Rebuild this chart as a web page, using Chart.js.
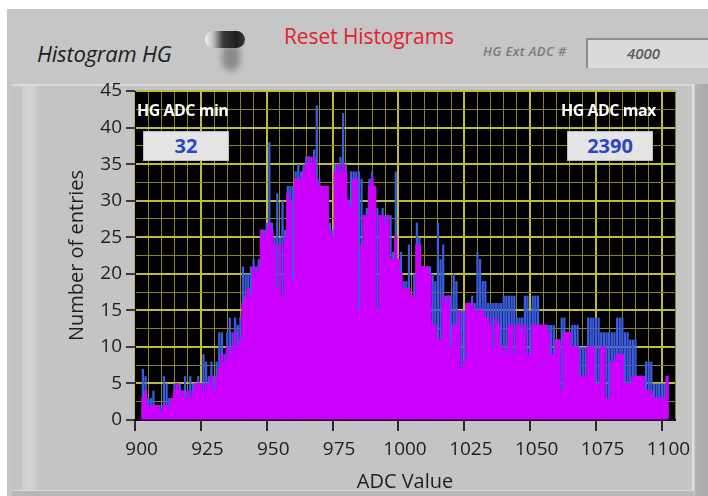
<!DOCTYPE html>
<html>
<head>
<meta charset="utf-8">
<script src="https://cdn.jsdelivr.net/npm/chart.js@4.4.1/dist/chart.umd.min.js"></script>
<style>
  html, body { margin: 0; padding: 0; background: #fff; }
  #wrap { position: relative; width: 708px; height: 496px; overflow: hidden; font-family: "Open Sans", sans-serif; }
  .abs { position: absolute; }
  #panel { left: 7px; top: 9px; right: 0; bottom: 0; background: #c6c6c6; }
  #inner { left: 12px; top: 84px; width: 682px; height: 408px; background: #c4c4c4; border-top: 2px solid #dcdcdc; }
  #leftStrip { left: 22px; top: 86px; width: 16px; height: 406px; background: linear-gradient(90deg, #cdcdcd, #d5d5d5, #c6c6c6); }
  #rightStrip { left: 692px; top: 84px; width: 16px; height: 412px; background: linear-gradient(90deg, #e0e0e0 0, #e0e0e0 2px, #b4b4b4 3px, #a9a9a9 100%); }
  #bottomLine { left: 12px; top: 490px; width: 682px; height: 6px; background: #b8b8b8; border-top: 1px solid #dadada; }
  .title { left: 37px; top: 42px; font-size: 22px; font-style: italic; color: #1c1c1c; line-height: 22px; letter-spacing: -0.2px; }
  .reset { left: 284px; top: 26px; font-size: 21px; color: #e4202c; line-height: 21px; letter-spacing: -0.1px; }
  .ext { left: 483px; top: 45px; font-size: 13px; font-weight: 600; font-style: italic; color: #7a7a7a; line-height: 13px; letter-spacing: 0.4px; }
  .input { left: 586px; top: 38px; width: 124px; height: 28px; background: #dadada; border-top: 2px solid #8c8c8c; border-left: 2px solid #8c8c8c; }
  .input span { position: absolute; left: 39px; top: 6px; font-size: 15px; font-weight: 600; font-style: italic; color: #5a5a5a; line-height: 15px; }
  .knob { left: 205px; top: 31px; width: 40px; height: 17px; border-radius: 9px; background: linear-gradient(90deg, #f4f4f4 0%, #b8b8b8 22%, #3a3a3a 45%, #1e1e1e 80%, #3a3a3a 100%); }
  .shadow { left: 222px; top: 44px; width: 18px; height: 27px; border-radius: 9px; background: #8a8a8a; filter: blur(3px); }
  .label { font-size: 16px; font-weight: bold; color: #fff; line-height: 16px; letter-spacing: -0.5px; z-index: 2; }
  .box { width: 84px; height: 28px; background: #e4e4e4; border: 1px solid #bdbdbd; z-index: 2; text-align: center; font-size: 20px; font-weight: bold; color: #2a48c4; line-height: 28px; }
  canvas { position: absolute; left: 0; top: 0; z-index: 1; }
</style>
</head>
<body>
<div id="wrap">
  <div id="panel" class="abs"></div>
  <div id="inner" class="abs"></div>
  <div id="leftStrip" class="abs"></div>
  <div id="rightStrip" class="abs"></div>
  <div id="bottomLine" class="abs"></div>
  <div class="abs title">Histogram HG</div>
  <div class="abs shadow"></div>
  <div class="abs knob"></div>
  <div class="abs reset">Reset Histograms</div>
  <div class="abs ext">HG Ext ADC #</div>
  <div class="abs input"><span>4000</span></div>
  <canvas id="chart" width="708" height="496"></canvas>
  <div class="abs label" style="left:137px; top:102px;">HG ADC min</div>
  <div class="abs box" style="left:143px; top:131px;">32</div>
  <div class="abs label" style="left:561px; top:102px;">HG ADC max</div>
  <div class="abs box" style="left:567px; top:131px;">2390</div>
</div>
<script>
// histogram bins: one ADC count per bin, 900 .. 1099
const binStart = 900;
const binCount = 200;

const magentaCounts = [
  3, 4, 2, 2, 2, 2, 2, 1, 2, 2,
  2, 3, 4, 5, 4, 4, 3, 4, 3, 4,
  5, 5, 5, 4, 5, 5, 6, 4, 6, 7,
  9, 8, 10, 9, 10, 12, 10, 11, 16, 17,
  18, 17, 21, 20, 21, 26, 25, 26, 27, 26,
  24, 18, 24, 17, 25, 31, 30, 19, 33, 33,
  33, 34, 35, 36, 35, 36, 33, 32, 32, 32,
  32, 26, 25, 34, 35, 34, 35, 34, 30, 29,
  33, 33, 15, 24, 28, 28, 32, 33, 32, 15,
  28, 28, 27, 28, 22, 22, 25, 22, 20, 18,
  18, 18, 17, 17, 24, 24, 21, 21, 21, 20,
  13, 13, 11, 11, 17, 16, 17, 10, 13, 13,
  15, 7, 8, 16, 16, 16, 15, 15, 15, 15,
  14, 14, 13, 10, 14, 13, 10, 10, 9, 13,
  13, 9, 13, 13, 12, 13, 9, 9, 13, 13,
  13, 13, 13, 13, 12, 9, 9, 11, 11, 4,
  12, 12, 12, 10, 10, 10, 6, 6, 6, 10,
  10, 10, 5, 5, 10, 10, 3, 3, 8, 8,
  9, 9, 9, 5, 5, 5, 6, 6, 6, 6,
  6, 4, 4, 4, 3, 3, 3, 3, 3, 6
];

const blueCounts = [
  7, 6, 3, 3, 4, 2, 2, 2, 6, 5,
  3, 3, 5, 5, 5, 4, 6, 4, 6, 5,
  5, 6, 5, 9, 8, 6, 8, 6, 8, 12,
  12, 9, 12, 14, 12, 14, 13, 14, 21, 20,
  20, 21, 22, 21, 22, 26, 26, 27, 38, 27,
  25, 31, 25, 30, 26, 32, 32, 32, 34, 35,
  34, 35, 36, 36, 36, 37, 43, 33, 32, 32,
  32, 27, 26, 35, 35, 36, 42, 35, 30, 34,
  34, 34, 34, 33, 28, 29, 33, 34, 32, 29,
  28, 29, 28, 28, 28, 23, 34, 22, 23, 19,
  19, 24, 17, 20, 27, 25, 21, 21, 21, 21,
  20, 19, 27, 22, 24, 17, 17, 17, 20, 19,
  15, 15, 15, 16, 16, 17, 16, 23, 22, 19,
  19, 16, 16, 16, 16, 16, 16, 17, 17, 17,
  17, 17, 14, 14, 14, 17, 17, 15, 17, 17,
  17, 13, 13, 13, 13, 13, 13, 11, 11, 14,
  14, 12, 12, 13, 13, 13, 10, 10, 10, 14,
  14, 14, 14, 14, 12, 12, 12, 12, 12, 12,
  14, 14, 14, 12, 12, 11, 11, 11, 6, 6,
  6, 8, 8, 8, 5, 5, 5, 5, 5, 6
];

const xTickLabels = [900, 925, 950, 975, 1000, 1025, 1050, 1075, 1100];
const yTickLabels = [0, 5, 10, 15, 20, 25, 30, 35, 40, 45];

const bins = Array.from({ length: binCount }, (_, i) => binStart + i);
const toPoints = (counts) => bins.map((b, i) => ({ x: b + 0.5, y: counts[i] }));

const plotBackground = {
  id: "plotBackground",
  beforeDraw(chart) {
    const { ctx, chartArea: a } = chart;
    ctx.save();
    ctx.fillStyle = "#000";
    ctx.fillRect(a.left, a.top, a.right - a.left, a.bottom - a.top);
    ctx.restore();
  },
};

const majorGrid = "#bcbc3e";
const minorGrid = "#85852a";

Chart.defaults.font.family = "Open Sans";
Chart.defaults.color = "#1e1e1e";

new Chart(document.getElementById("chart"), {
  type: "bar",
  data: {
    datasets: [
      {
        label: "Histogram HG",
        data: toPoints(magentaCounts),
        backgroundColor: "#cc00ff",
        borderWidth: 0,
        grouped: false,
        categoryPercentage: 1,
        barPercentage: 1,
        order: 1,
      },
      {
        label: "HG raw",
        data: toPoints(blueCounts),
        backgroundColor: "#3a5de0",
        borderWidth: 0,
        grouped: false,
        categoryPercentage: 1,
        barPercentage: 0.85,
        order: 2,
      },
    ],
  },
  options: {
    responsive: false,
    animation: false,
    layout: {
      padding: { left: 65, right: 33, top: 91, bottom: 0 },
    },
    plugins: {
      legend: { display: false },
      tooltip: { enabled: false },
    },
    scales: {
      x: {
        type: "linear",
        min: 900,
        max: 1100,
        afterFit: (scale) => { scale.height = 76; },
        ticks: {
          stepSize: 5,
          autoSkip: false,
          maxRotation: 0,
          padding: 7,
          font: { size: 19 },
          callback: (v) => (xTickLabels.includes(v) ? String(v) : ""),
        },
        grid: {
          color: (c) => (c.tick && c.tick.value % 25 === 0 ? majorGrid : minorGrid),
          lineWidth: (c) => (c.tick && c.tick.value % 25 === 0 ? 2 : 1),
          tickColor: (c) => (c.tick && c.tick.value % 25 === 0 ? "#2a2a2a" : "rgba(0,0,0,0)"),
          tickLength: 11,
        },
        border: { color: "#2a0034", width: 2 },
        title: {
          display: true,
          text: "ADC Value",
          font: { size: 20 },
          padding: { top: 0, bottom: 2 },
        },
      },
      y: {
        min: 0,
        max: 45,
        afterFit: (scale) => { scale.width = 70; },
        ticks: {
          stepSize: 2.5,
          autoSkip: false,
          padding: 4,
          font: { size: 19 },
          callback: (v) => (yTickLabels.includes(v) ? String(v) : ""),
        },
        grid: {
          color: (c) => (c.tick && c.tick.value % 5 === 0 ? majorGrid : minorGrid),
          lineWidth: (c) => (c.tick && c.tick.value % 5 === 0 ? 2 : 1),
          tickColor: (c) => (c.tick && c.tick.value % 5 === 0 ? "#3a3a3a" : "rgba(0,0,0,0)"),
          tickLength: 9,
        },
        border: { color: "#000", width: 1 },
        title: {
          display: true,
          text: "Number of entries",
          font: { size: 20 },
          padding: { top: 0, bottom: 0 },
        },
      },
    },
  },
  plugins: [plotBackground],
});
</script>
</body>
</html>
